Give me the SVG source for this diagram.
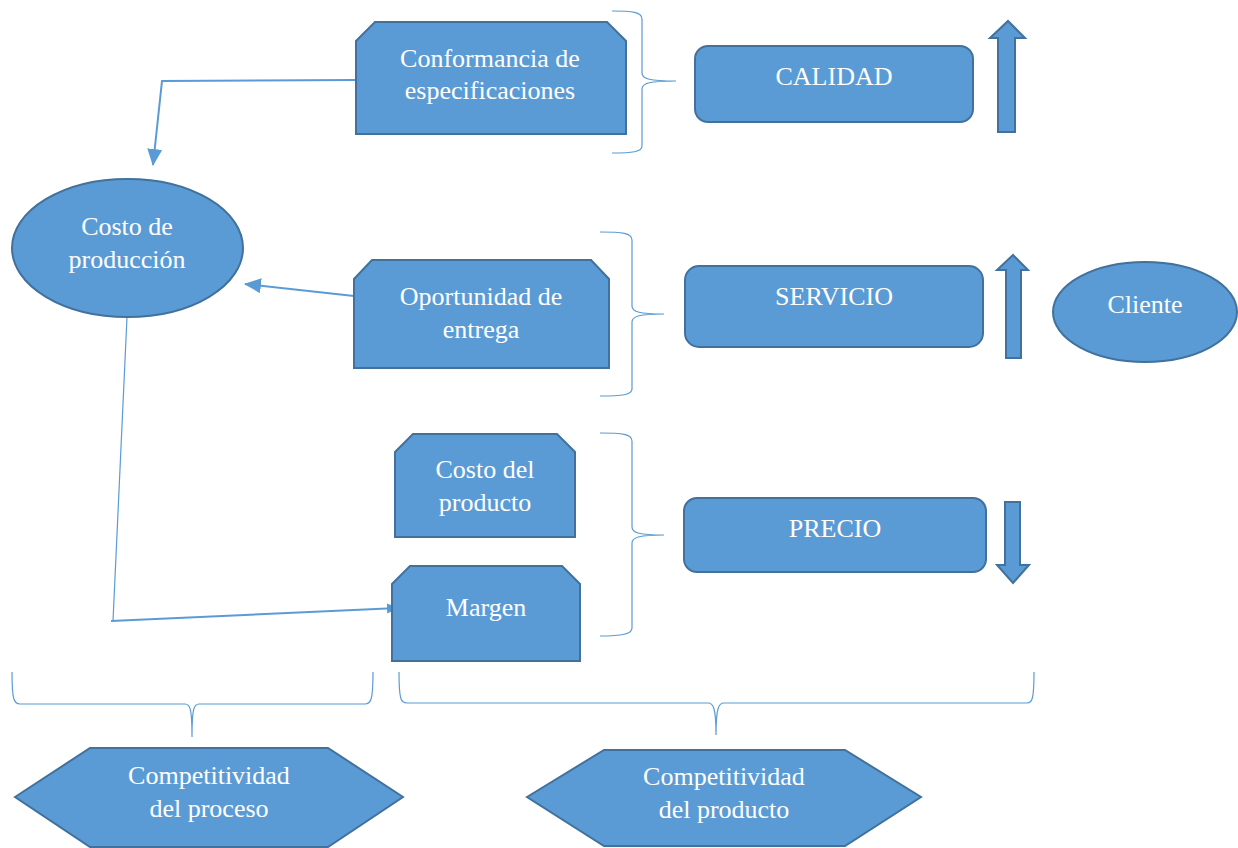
<svg xmlns="http://www.w3.org/2000/svg" width="1238" height="848" viewBox="0 0 1238 848">
<style>
.n{fill:#5B9BD5;stroke:#41719C;stroke-width:2}
.t{font-family:'Liberation Serif','DejaVu Serif',serif;font-size:26px;fill:#FFFFFF;text-anchor:middle}
.br{fill:none;stroke:#5B9BD5;stroke-width:1.2}
.c{fill:none;stroke:#5B9BD5;stroke-width:2}
.c1{fill:none;stroke:#5B9BD5;stroke-width:1.2}
</style>
<defs>
<marker id="ah" markerUnits="userSpaceOnUse" markerWidth="18" markerHeight="18" viewBox="0 0 18 18" refX="16" refY="9" orient="auto">
<path d="M0,1.5 L17,9 L0,16.5 Z" fill="#5B9BD5"/>
</marker>
<marker id="ahs" markerUnits="userSpaceOnUse" markerWidth="12" markerHeight="12" viewBox="0 0 12 12" refX="11" refY="6" orient="auto">
<path d="M0,1 L12,6 L0,11 Z" fill="#5B9BD5"/>
</marker>
</defs>

<g id="connectors">
<path class="c" d="M355,80 L162,81 L153,165" marker-end="url(#ah)"/>
<path class="c" d="M354,296 L245,284" marker-end="url(#ah)"/>
<path class="c1" d="M127,317 L113,621"/>
<path class="c" d="M111,621 L398,608" marker-end="url(#ahs)"/>
</g>

<g id="braces">
<path class="br" d="M612,11 C632,11 642,12 642,19 L642,73 C642,79 650,81 676,81 C650,81 642,83 642,89 L642,146 C642,152 632,153 612,153"/>
<path class="br" d="M600,232 C622,232 632,233 632,240 L632,306 C632,312 640,314 664,314 C640,314 632,316 632,322 L632,389 C632,395 622,396 600,396"/>
<path class="br" d="M600,433 C622,433 632,434 632,441 L632,527 C632,533 640,535 664,535 C640,535 632,537 632,543 L632,628 C632,634 622,636 600,636"/>
<path class="br" d="M12,672 C12,700 14,704 20,704 L185,704 C190,704 192,708 192,737 C192,708 194,704 199,704 L365,704 C371,704 373,700 373,672"/>
<path class="br" d="M399,672 C399,700 401,703 407,703 L708,703 C713,703 716,707 716,735 C716,707 719,703 724,703 L1027,703 C1032,703 1034,700 1034,672"/>
</g>

<g id="conformancia">
<path class="n" d="M356,41 L375,22 L607,22 L626,41 L626,134 L356,134 Z"/>
<text class="t" x="490" y="67">Conformancia de</text>
<text class="t" x="490" y="99">especificaciones</text>
</g>

<g id="calidad">
<rect class="n" x="695" y="46" width="278" height="76" rx="13"/>
<text class="t" x="834" y="85">CALIDAD</text>
</g>

<g id="arrow-calidad">
<path class="n" d="M998,132 L998,38 L990,38 L1008,21 L1025,38 L1015,38 L1015,132 Z"/>
</g>

<g id="costo-produccion">
<ellipse class="n" cx="127.5" cy="248" rx="115.5" ry="69"/>
<text class="t" x="127" y="235">Costo de</text>
<text class="t" x="127" y="268">producción</text>
</g>

<g id="oportunidad">
<path class="n" d="M354,279 L372,260 L591,260 L609,279 L609,368 L354,368 Z"/>
<text class="t" x="481" y="305">Oportunidad de</text>
<text class="t" x="481" y="338">entrega</text>
</g>

<g id="servicio">
<rect class="n" x="685" y="266" width="298" height="81" rx="14"/>
<text class="t" x="834" y="305">SERVICIO</text>
</g>

<g id="arrow-servicio">
<path class="n" d="M1006,358 L1006,270 L997,270 L1013,255 L1028,270 L1021,270 L1021,358 Z"/>
</g>

<g id="cliente">
<ellipse class="n" cx="1145" cy="312" rx="92" ry="50"/>
<text class="t" x="1145" y="313">Cliente</text>
</g>

<g id="costo-producto">
<path class="n" d="M395,452 L413,434 L557,434 L575,452 L575,537 L395,537 Z"/>
<text class="t" x="485" y="478">Costo del</text>
<text class="t" x="485" y="511">producto</text>
</g>

<g id="margen">
<path class="n" d="M392,584 L410,566 L562,566 L580,584 L580,661 L392,661 Z"/>
<text class="t" x="486" y="616">Margen</text>
</g>

<g id="precio">
<rect class="n" x="684" y="498" width="302" height="74" rx="13"/>
<text class="t" x="835" y="537">PRECIO</text>
</g>

<g id="arrow-precio">
<path class="n" d="M1005,502 L1020,502 L1020,565 L1029,565 L1013,583 L997,565 L1005,565 Z"/>
</g>

<g id="comp-proceso">
<path class="n" d="M15,797 L90,748 L328,748 L403,797 L328,847 L90,847 Z"/>
<text class="t" x="209" y="784">Competitividad</text>
<text class="t" x="209" y="817">del proceso</text>
</g>

<g id="comp-producto">
<path class="n" d="M527,797 L604,750 L845,750 L921,797 L845,846 L604,846 Z"/>
<text class="t" x="724" y="785">Competitividad</text>
<text class="t" x="724" y="818">del producto</text>
</g>
</svg>
